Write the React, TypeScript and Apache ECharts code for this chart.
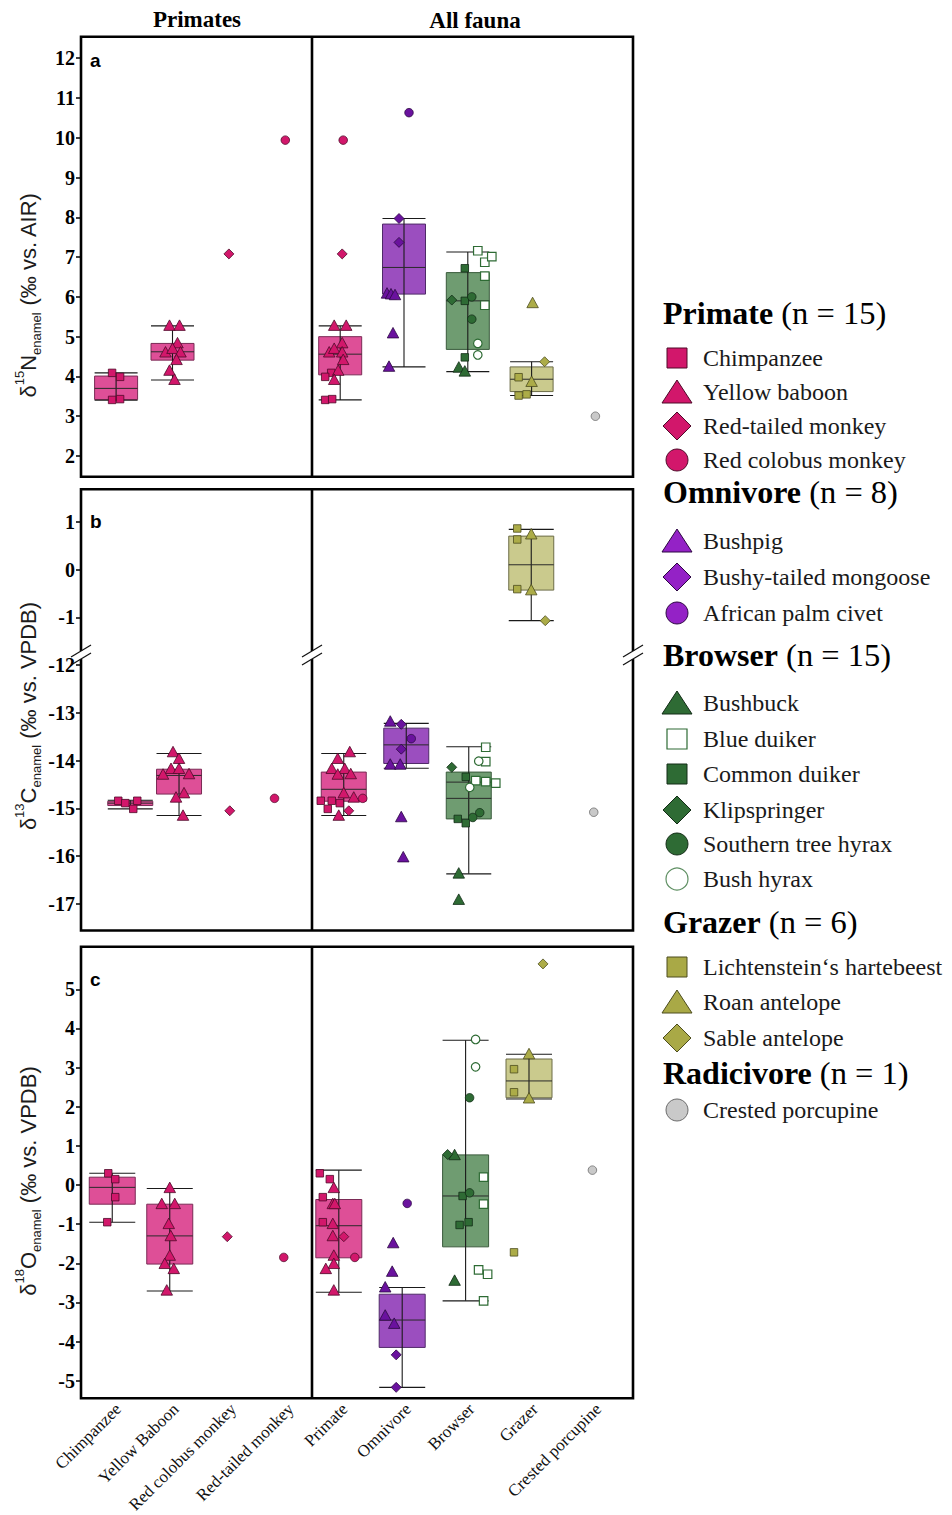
import React, { useEffect, useRef } from "react";
import * as echarts from "echarts";

// ---------------- categories, titles ----------------
const primateCategories = ["Chimpanzee", "Yellow Baboon", "Red colobus monkey", "Red-tailed monkey"];
const faunaCategories = ["Primate", "Omnivore", "Browser", "Grazer", "Crested porcupine"];
const columnTitles = ["Primates", "All fauna"];
const panelLetters = ["a", "b", "c"];
const axisTitleIsotope = ["15", "13", "18"];
const axisTitleElement = ["N", "C", "O"];
const axisTitleTail = [" (‰ vs. AIR)", " (‰ vs. VPDB)", " (‰ vs. VPDB)"];

const groupNames = ["Primate", "Omnivore", "Browser", "Grazer", "Radicivore"];
const groupCounts = [15, 8, 15, 6, 1];

const speciesNames = [
  "Chimpanzee", "Yellow baboon", "Red-tailed monkey", "Red colobus monkey",
  "Bushpig", "Bushy-tailed mongoose", "African palm civet",
  "Bushbuck", "Blue duiker", "Common duiker", "Klipspringer", "Southern tree hyrax", "Bush hyrax",
  "Lichtenstein‘s hartebeest", "Roan antelope", "Sable antelope",
  "Crested porcupine",
];
const speciesGroup = [0, 0, 0, 0, 1, 1, 1, 2, 2, 2, 2, 2, 2, 3, 3, 3, 4];
const speciesPrimateColumn = [0, 1, 2, 3];
const speciesMarker = ["square", "triangle", "diamond", "circle", "triangle", "diamond", "circle", "triangle", "openSquare", "square", "diamond", "circle", "openCircle", "square", "triangle", "diamond", "circle"];

// ---------------- tick labels ----------------
const d15NTicks = [2, 3, 4, 5, 6, 7, 8, 9, 10, 11, 12];
const d13CTicksUpper = [1, 0, -1];
const d13CTicksLower = [-12, -13, -14, -15, -16, -17];
const d18OTicks = [5, 4, 3, 2, 1, 0, -1, -2, -3, -4, -5];

// ---------------- values (species order as speciesNames) ----------------
const d15N = [
  [4.09, 3.99, 3.41, 3.43],
  [5.29, 5.29, 4.85, 4.62, 4.71, 4.62, 4.43, 4.16, 3.93],
  [7.08],
  [9.94],
  [6.10, 6.08, 6.06, 5.10, 4.26],
  [7.97, 7.37],
  [10.63],
  [4.24, 4.14],
  [7.16, 6.87, 7.01, 6.52, 5.79],
  [6.72, 5.90, 4.48],
  [5.92],
  [6.00, 5.44],
  [4.83, 4.54],
  [3.98, 3.52, 3.55],
  [5.86, 3.88],
  [4.37],
  [3.00],
];
const d13C = [
  [-14.84, -14.89, -15.01, -14.84],
  [-13.81, -13.95, -14.16, -14.16, -14.28, -14.27, -14.67, -14.76, -15.14],
  [-15.05],
  [-14.79],
  [-13.17, -14.07, -14.07, -15.17, -16.01],
  [-13.24, -13.76],
  [-13.54],
  [-16.35, -16.90],
  [-13.72, -14.02, -14.42, -14.44, -14.47],
  [-14.34, -15.22, -15.31],
  [-14.14],
  [-15.09, -15.19],
  [-14.01, -14.56],
  [0.86, 0.63, -0.41],
  [0.75, -0.42],
  [-1.07],
  [-15.08],
];
const d18O = [
  [0.30, 0.15, -0.31, -0.95],
  [-0.06, -0.47, -0.47, -0.98, -1.29, -1.79, -2.00, -2.13, -2.68],
  [-1.32],
  [-1.85],
  [-1.47, -2.20, -2.60, -3.32, -3.53],
  [-4.34, -5.17],
  [-0.47],
  [0.78, -2.43],
  [0.20, -0.49, -2.17, -2.28, -2.96],
  [-0.28, -1.02, -0.95],
  [0.78],
  [2.23, -0.20],
  [3.72, 3.02],
  [2.96, 2.37, -1.72],
  [3.36, 2.23],
  [5.65],
  [0.38],
];

// box statistics [min, Q1, median, Q3, max]
const d15NPrimateBoxes = [[3.40, 3.42, 3.70, 4.01, 4.09], [3.91, 4.41, 4.62, 4.83, 5.27]];
const d15NFaunaBoxes = [[3.41, 4.04, 4.56, 5.00, 5.27], [4.24, 6.07, 6.74, 7.83, 7.97], [4.12, 4.68, 5.90, 6.61, 7.13], [3.52, 3.62, 3.93, 4.24, 4.37]];
const d15NFaunaMeans = [null, null, null, null];
const d13CPrimateBoxes = [[-15.01, -14.94, -14.89, -14.85, -14.83], [-15.15, -14.70, -14.31, -14.18, -13.85]];
const d13CFaunaBoxes = [[-15.15, -14.85, -14.60, -14.24, -13.85], [-14.16, -14.06, -13.67, -13.32, -13.22], [-16.37, -15.22, -14.45, -14.24, -13.71], [-1.07, -0.43, 0.10, 0.70, 0.84]];
const d13CFaunaMeans = [null, null, -14.79, null];
const d18OPrimateBoxes = [[-0.95, -0.49, -0.06, 0.20, 0.30], [-2.71, -2.02, -1.30, -0.49, -0.09]];
const d18OFaunaBoxes = [[-2.74, -1.86, -1.04, -0.37, 0.38], [-5.17, -4.15, -3.45, -2.79, -2.62], [-2.96, -1.58, -0.28, 0.77, 3.70], [2.20, 2.23, 2.66, 3.22, 3.34]];
const d18OFaunaMeans = [null, null, null, null];

// horizontal jitter of each point (px from its box centre)
const d15NJitterPrimates = [[-4, 4, -4, 4], [-3, 7, 5, -7, 0, 8, 4, -3, 2], [0], [0]];
const d15NJitterFauna = [[-9, -15, -15, -8], [-6, 6, 2, -11, -6, 2, 3, -2, -6], [2], [3], [-17, -13, -9, -11, -15], [-5, -5], [5], [-9, -3], [10, 17, 24, 17, 17], [-3, -3, -3], [-16], [4, 4], [10, 10], [-13, -13, -5], [1, 0], [13], [0]];
const d13CJitterPrimates = [[-12, -5, 3, 7], [-6, 0, -8, 0, -16, 10, 5, -3, 4], [2], [-2]];
const d13CJitterFauna = [[-23, -4, -16, -12], [6, -6, -12, 1, -6, 7, 0, 10, -5], [5], [19], [-16, -16, -6, -5, -3], [-5, -5], [5], [-10, -10], [17, 17, 7, 17, 27], [-3, -11, -3], [-17], [11, 4], [10, 1], [-14, -14, -14], [0, 0], [14], [0]];
const d18OJitterPrimates = [[-4, 3, 3, -5], [0, -8, 5, -1, 1, 0, -5, 4, -3], [0], [-1]];
const d18OJitterFauna = [[-19, -9, -16, -16], [-5, -6, -4, -6, -6, -5, -5, -13, -5], [5], [16], [-9, -10, -17, -17, -8], [-6, -6], [5], [-11, -11], [18, 18, 13, 22, 18], [-3, -6, 3], [-18], [4, 4], [10, 10], [-15, -15, -15], [0, 0], [14], [0]];

// ---------------- styles / layout ----------------
const FRAME_LEFT = 81;
const FRAME_DIV = 312;
const FRAME_RIGHT = 633;
const groupFill = ["#D2176B", "#6A129E", "#2E6B34", "#ACAC48", "#C9C9C9"];
const groupEdge = ["#4E0A29", "#2C0742", "#122C16", "#4C4C1E", "#6A6A6A"];
const legendFill = ["#D2176B", "#9422C6", "#2E6B34", "#A9A946", "#C9C9C9"];
const boxFill = ["#DE4F97", "#9B4EBF", "#6F9C71", "#CACA8D"];
const boxEdge = ["#7A2A55", "#4F2A68", "#3A5B3C", "#6C6C47"];
const SERIF = '"Liberation Serif", "Times New Roman", serif';
const SANS = '"Liberation Sans", Arial, sans-serif';

const panelLayout: any[] = [
  {
    prim: { left: 87.9, width: 225.6 }, fauna: { left: 308.3, width: 319 }, boxW: 43,
    frameTop: 36.7, frameBottom: 476.7, titleY: 295, letterY: 60,
    bands: [{ top: 36.7, height: 440, min: 1.48, max: 12.54 }],
  },
  {
    prim: { left: 105.9, width: 195 }, fauna: { left: 312.5, width: 312.5 }, boxW: 45,
    frameTop: 489.3, frameBottom: 930.5, titleY: 716, letterY: 521, breakY: 657,
    bands: [
      { top: 489.3, height: 151.9, min: -1.5, max: 1.68 },
      { top: 641.2, height: 289.3, min: -17.556, max: -11.5 },
    ],
  },
  {
    prim: { left: 83.5, width: 230 }, fauna: { left: 307.1, width: 317 }, boxW: 46,
    frameTop: 946.7, frameBottom: 1398.3, titleY: 1181, letterY: 979,
    bands: [{ top: 946.7, height: 451.6, min: -5.45, max: 6.09 }],
  },
];

const panelData = [
  { values: d15N, primBoxes: d15NPrimateBoxes, faunaBoxes: d15NFaunaBoxes, faunaMeans: d15NFaunaMeans, jitP: d15NJitterPrimates, jitF: d15NJitterFauna, ticks: [d15NTicks] },
  { values: d13C, primBoxes: d13CPrimateBoxes, faunaBoxes: d13CFaunaBoxes, faunaMeans: d13CFaunaMeans, jitP: d13CJitterPrimates, jitF: d13CJitterFauna, ticks: [d13CTicksUpper, d13CTicksLower] },
  { values: d18O, primBoxes: d18OPrimateBoxes, faunaBoxes: d18OFaunaBoxes, faunaMeans: d18OFaunaMeans, jitP: d18OJitterPrimates, jitF: d18OJitterFauna, ticks: [d18OTicks] },
];

const legendHeaderY = [313, 492, 655, 922, 1073];
const legendItemY = [358, 392, 426, 460, 541, 577, 613, 703, 739, 774, 810, 844, 879, 967, 1002, 1038, 1110];

function markerSymbol(m: string) {
  if (m === "square" || m === "openSquare") return "rect";
  if (m === "openCircle") return "circle";
  return m;
}
function markerSize(m: string): any {
  if (m === "square") return 7.5;
  if (m === "openSquare") return 8.5;
  if (m === "triangle") return [11.5, 10.5];
  if (m === "diamond") return [10, 10];
  return 8.5;
}

function makeBox(catAxis: number, yIdx: number, cat: number, st: number[], mean: number | null, boxW: number, fill: string, edge: string) {
  return {
    type: "custom",
    xAxisIndex: catAxis,
    yAxisIndex: yIdx,
    z: 3,
    silent: true,
    clip: false,
    data: [[cat, st[0], st[1], st[2], st[3], st[4]]],
    renderItem: (_params: any, api: any) => {
      const c = api.value(0);
      const pMin = api.coord([c, api.value(1)]);
      const yQ1 = api.coord([c, api.value(2)])[1];
      const yMed = api.coord([c, api.value(3)])[1];
      const yQ3 = api.coord([c, api.value(4)])[1];
      const yMax = api.coord([c, api.value(5)])[1];
      const x = pMin[0];
      const yMin = pMin[1];
      const h = boxW / 2;
      const ln = (x1: number, y1: number, x2: number, y2: number, col: string, w: number) => ({
        type: "line", shape: { x1, y1, x2, y2 }, style: { stroke: col, lineWidth: w },
      });
      const kids: any[] = [
        { type: "rect", shape: { x: x - h, y: yQ3, width: boxW, height: Math.max(yQ1 - yQ3, 0.5) }, style: { fill, stroke: edge, lineWidth: 1 } },
        ln(x, yMax, x, yMin, "#1a1a1a", 1.1),
        ln(x - h, yMax, x + h, yMax, "#1a1a1a", 1.1),
        ln(x - h, yMin, x + h, yMin, "#1a1a1a", 1.1),
        ln(x - h, yMed, x + h, yMed, "#2a2a2a", 1),
      ];
      if (mean !== null && mean !== undefined) {
        const yMean = api.coord([c, mean])[1];
        kids.push(ln(x - h, yMean, x + h, yMean, "#2a2a2a", 1));
      }
      return { type: "group", children: kids };
    },
  };
}

function buildOption() {
  const grid: any[] = [];
  const xAxis: any[] = [];
  const yAxis: any[] = [];
  const series: any[] = [];

  panelData.forEach((pd, pi) => {
    const lay = panelLayout[pi];
    const showX = pi === panelData.length - 1;
    lay.bands.forEach((band: any, bi: number) => {
      const inBand = (v: number) => v >= band.min && v <= band.max;
      const ticks = pd.ticks[bi];
      [0, 1].forEach((sec) => {
        const gx = sec === 0 ? lay.prim : lay.fauna;
        const cats = sec === 0 ? primateCategories : faunaCategories;
        const gi = grid.length;
        grid.push({ left: gx.left, width: gx.width, top: band.top, height: band.height, containLabel: false, outerBoundsMode: "none" });
        const catAxis = xAxis.length;
        xAxis.push({
          type: "category", gridIndex: gi, data: cats,
          axisLine: { show: false, onZero: false }, axisTick: { show: false }, splitLine: { show: false },
          axisLabel: showX
            ? { show: true, rotate: 45, interval: 0, margin: 2, verticalAlign: "top", fontFamily: SERIF, fontSize: 17, color: "#111" }
            : { show: false },
        });
        const valAxis = xAxis.length;
        xAxis.push({ type: "value", gridIndex: gi, min: -0.5, max: cats.length - 0.5, show: false, axisLine: { onZero: false } });
        yAxis.push({
          type: "value", gridIndex: gi, min: band.min, max: band.max,
          show: sec === 0, position: "left", offset: sec === 0 ? gx.left - FRAME_LEFT : 0,
          axisLine: { show: false, onZero: false },
          axisTick: { show: true, inside: false, length: 5, customValues: ticks, lineStyle: { color: "#000", width: 1.5 } },
          axisLabel: { show: true, customValues: ticks, margin: 6, fontFamily: SERIF, fontWeight: "bold", fontSize: 20, color: "#000" },
          splitLine: { show: false },
        });
        const catW = gx.width / cats.length;
        const boxes = sec === 0 ? pd.primBoxes : pd.faunaBoxes;
        boxes.forEach((st, i) => {
          if (!inBand(st[2])) return;
          const ci = sec === 0 ? 0 : i;
          const mean = sec === 0 ? null : (pd.faunaMeans[i] as any);
          series.push(makeBox(catAxis, gi, i, st, mean, lay.boxW, boxFill[ci], boxEdge[ci]));
        });
        speciesNames.forEach((name, s) => {
          if (sec === 0 && speciesGroup[s] !== 0) return;
          const col = sec === 0 ? speciesPrimateColumn[s] : speciesGroup[s];
          const jit = sec === 0 ? pd.jitP[s] : pd.jitF[s];
          const pts = pd.values[s]
            .map((v, k) => [col + (jit[k] || 0) / catW, v])
            .filter((p) => inBand(p[1]));
          if (!pts.length) return;
          const m = speciesMarker[s];
          const g = speciesGroup[s];
          const open = m === "openSquare" || m === "openCircle";
          series.push({
            type: "scatter", name, xAxisIndex: valAxis, yAxisIndex: gi, z: 5, silent: true,
            symbol: markerSymbol(m), symbolSize: markerSize(m),
            itemStyle: open
              ? { color: "#ffffff", borderColor: groupFill[2], borderWidth: 1.2, opacity: 1 }
              : { color: groupFill[g], borderColor: groupEdge[g], borderWidth: 0.8, opacity: 1 },
            emphasis: { disabled: true },
            data: pts,
          });
        });
      });
    });
  });

  // ---------------- graphic: frames, titles, legend ----------------
  const graphics: any[] = [];
  panelLayout.forEach((lay, pi) => {
    graphics.push({
      type: "rect", z: 50, silent: true,
      shape: { x: FRAME_LEFT, y: lay.frameTop, width: FRAME_RIGHT - FRAME_LEFT, height: lay.frameBottom - lay.frameTop },
      style: { fill: "none", stroke: "#000", lineWidth: 2.6 },
    });
    graphics.push({
      type: "line", z: 50, silent: true,
      shape: { x1: FRAME_DIV, y1: lay.frameTop, x2: FRAME_DIV, y2: lay.frameBottom },
      style: { stroke: "#000", lineWidth: 2.6 },
    });
    graphics.push({
      type: "text", z: 50, silent: true, x: 90, y: lay.letterY,
      style: { text: panelLetters[pi], fontFamily: SANS, fontWeight: "bold", fontSize: 19, fill: "#000", align: "left", verticalAlign: "middle" },
    });
    graphics.push({
      type: "text", z: 50, silent: true, x: 28, y: lay.titleY, rotation: Math.PI / 2,
      style: {
        text: `{m|δ}{s|${axisTitleIsotope[pi]}}{m|${axisTitleElement[pi]}}{b|enamel}{m|${axisTitleTail[pi]}}`,
        align: "center", verticalAlign: "middle",
        rich: {
          m: { fontFamily: SANS, fontSize: 22, fill: "#1c1c1c", lineHeight: 30, verticalAlign: "middle" },
          s: { fontFamily: SANS, fontSize: 13, fill: "#1c1c1c", lineHeight: 14, verticalAlign: "top" },
          b: { fontFamily: SANS, fontSize: 13, fill: "#1c1c1c", lineHeight: 14, verticalAlign: "bottom" },
        },
      },
    });
    if (lay.breakY) {
      const cy = lay.breakY;
      [FRAME_LEFT, FRAME_DIV, FRAME_RIGHT].forEach((cx) => {
        graphics.push({ type: "rect", z: 51, silent: true, shape: { x: cx - 4, y: cy - 6, width: 8, height: 8 }, style: { fill: "#fff", stroke: null } });
        graphics.push({ type: "line", z: 52, silent: true, shape: { x1: cx - 10, y1: cy, x2: cx + 10, y2: cy - 12 }, style: { stroke: "#111", lineWidth: 1.2 } });
        graphics.push({ type: "line", z: 52, silent: true, shape: { x1: cx - 10, y1: cy + 8, x2: cx + 10, y2: cy - 4 }, style: { stroke: "#111", lineWidth: 1.2 } });
      });
    }
  });
  graphics.push({
    type: "text", z: 50, silent: true, x: 197, y: 19,
    style: { text: columnTitles[0], fontFamily: SERIF, fontWeight: "bold", fontSize: 23, fill: "#000", align: "center", verticalAlign: "middle" },
  });
  graphics.push({
    type: "text", z: 50, silent: true, x: 475, y: 20,
    style: { text: columnTitles[1], fontFamily: SERIF, fontWeight: "bold", fontSize: 23, fill: "#000", align: "center", verticalAlign: "middle" },
  });

  // legend
  groupNames.forEach((gname, g) => {
    graphics.push({
      type: "text", z: 50, silent: true, x: 663, y: legendHeaderY[g],
      style: {
        text: `{b|${gname}}{r| (n = ${groupCounts[g]})}`,
        align: "left", verticalAlign: "middle",
        rich: {
          b: { fontFamily: SERIF, fontWeight: "bold", fontSize: 32, fill: "#000" },
          r: { fontFamily: SERIF, fontSize: 32.5, fill: "#000" },
        },
      },
    });
  });
  speciesNames.forEach((name, s) => {
    const y = legendItemY[s];
    const cx = 677;
    const m = speciesMarker[s];
    const g = speciesGroup[s];
    const fill = legendFill[g];
    const edge = groupEdge[g];
    let icon: any;
    if (m === "square") icon = { type: "rect", shape: { x: cx - 10, y: y - 10, width: 20, height: 20 }, style: { fill, stroke: edge, lineWidth: 1 } };
    else if (m === "openSquare") icon = { type: "rect", shape: { x: cx - 10, y: y - 10, width: 20, height: 20 }, style: { fill: "#fff", stroke: groupFill[2], lineWidth: 1.2 } };
    else if (m === "triangle") icon = { type: "polygon", shape: { points: [[cx - 15, y + 11], [cx + 15, y + 11], [cx, y - 12]] }, style: { fill, stroke: edge, lineWidth: 1 } };
    else if (m === "diamond") icon = { type: "polygon", shape: { points: [[cx, y - 14], [cx + 14, y], [cx, y + 14], [cx - 14, y]] }, style: { fill, stroke: edge, lineWidth: 1 } };
    else if (m === "openCircle") icon = { type: "circle", shape: { cx, cy: y, r: 11 }, style: { fill: "#fff", stroke: "#5E8F62", lineWidth: 1.2 } };
    else icon = { type: "circle", shape: { cx, cy: y, r: 11 }, style: { fill, stroke: edge, lineWidth: 1 } };
    icon.z = 50;
    icon.silent = true;
    graphics.push(icon);
    graphics.push({
      type: "text", z: 50, silent: true, x: 703, y,
      style: { text: name, fontFamily: SERIF, fontSize: 24, fill: "#1a1a1a", align: "left", verticalAlign: "middle" },
    });
  });

  return {
    animation: false,
    backgroundColor: "#ffffff",
    grid,
    xAxis,
    yAxis,
    series,
    graphic: graphics,
  };
}

export default function App() {
  const ref = useRef<HTMLDivElement>(null);
  useEffect(() => {
    document.body.style.margin = "0";
    if (!ref.current) return;
    const chart = echarts.init(ref.current, undefined, { renderer: "svg" });
    chart.setOption(buildOption() as any);
    return () => chart.dispose();
  }, []);
  return <div ref={ref} style={{ width: 952, height: 1515, background: "#fff" }} />;
}
